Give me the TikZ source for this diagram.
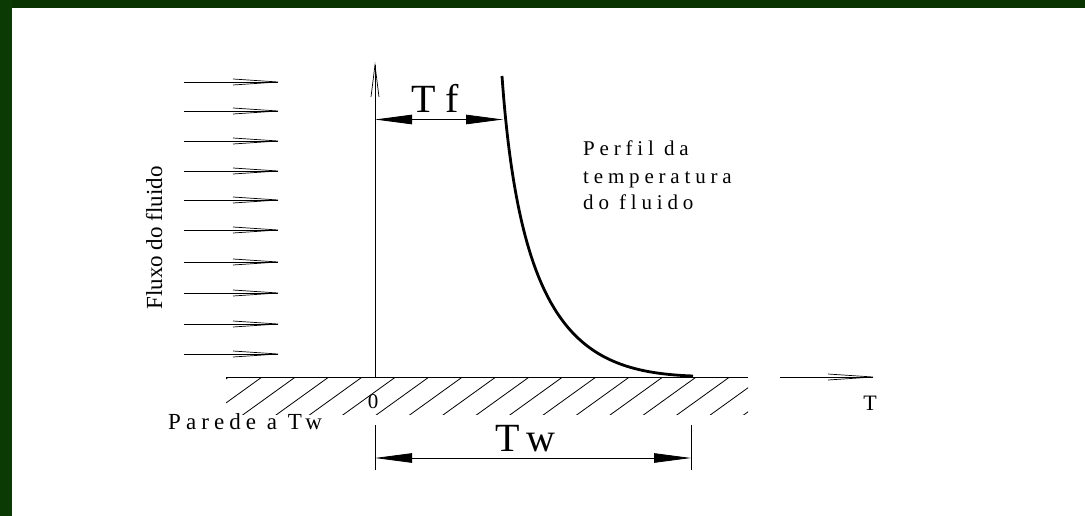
\documentclass[tikz,border=0pt]{standalone}
\usepackage{fontspec}
\setmainfont{Liberation Serif}
\usetikzlibrary{arrows.meta}
\definecolor{frametop}{RGB}{10,51,2}
\definecolor{frameleft}{RGB}{12,58,5}
\begin{document}
\begin{tikzpicture}[x=1pt,y=-1pt,
  thinline/.style={line width=0.8pt},
  openhead/.style={line width=0.7pt, line join=miter},
  dimline/.style={line width=0.8pt,{Triangle[length=37pt,width=9.5pt]}-{Triangle[length=37pt,width=9.5pt]}},
  bigtxt/.style={inner sep=0pt, font=\fontsize{40}{40}\selectfont},
  smalltxt/.style={inner sep=0pt, font=\fontsize{22}{22}\selectfont},
  spaced/.style={inner sep=0pt, font=\fontsize{21}{21}\selectfont\addfontfeature{LetterSpace=23}}]
\useasboundingbox (0,0) rectangle (1085,516);
\fill[white] (0,0) rectangle (1085,516);
% frame bars
\fill[frametop] (0,0) rectangle (1085,8);
\fill[frameleft] (0,0) rectangle (12,516);
% flow arrows
\foreach \yy in {82,111,141,171,200,230,262,293,324,354}{
  \draw[thinline] (184,\yy) -- (278,\yy);
  \draw[openhead] (233,\yy-3) -- (278,\yy) -- (233,\yy+3);
}
\node[smalltxt, font=\fontsize{23}{23}\selectfont, rotate=90, anchor=base] (fluxo) at (162,238) {Fluxo do fluido};
% axes
\coordinate (o) at (375,377);
\coordinate (ytip) at (375,65);
\draw[thinline] (o) -- (ytip);
\draw[openhead] (371,97) -- (ytip) -- (379,97);
\coordinate (xs) at (780,377);
\coordinate (xtip) at (873,377);
\draw[thinline] (xs) -- (xtip);
\draw[openhead] (828,374) -- (xtip) -- (828,380);
\node[smalltxt, anchor=base] (tlab) at (870,410) {T};
% wall and hatching
\coordinate (wl) at (226,377);
\coordinate (wr) at (748,377);
\draw[thinline] (wl) -- (wr);
\begin{scope}
  \clip (226,377) rectangle (748,414);
  \foreach \k in {-1,...,16}{
    \draw[thinline] ({262+33.4*\k},377) -- ({262+33.4*\k-60},{377+0.72*60});
  }
\end{scope}
\node[smalltxt, font=\fontsize{21}{21}\selectfont, anchor=base] (zero) at (373,408) {0};
\node[spaced, font=\fontsize{23}{23}\selectfont\addfontfeature{LetterSpace=22}, anchor=base west] (parede) at (168,429) {Parede a Tw};
% temperature profile
\coordinate (ctop) at (502,76);
\coordinate (cend) at (693,376);
\draw[line width=2.8pt] (ctop) .. controls (520,330) and (580,372) .. (cend);
% Tf dimension
\coordinate (tfl) at (375,119.5);
\coordinate (tfr) at (503,119.5);
\draw[dimline] (tfl) -- (tfr);
\node[bigtxt, anchor=base] (tf) at (435,113) {T\kern10pt f};
% Tw dimension
\coordinate (twl) at (375,458);
\coordinate (twr) at (691,458);
\coordinate (twlt) at (375,425);
\coordinate (twrt) at (691,425);
\coordinate (twlb) at (375,470);
\coordinate (twrb) at (691,470);
\draw[thinline] (twlt) -- (twlb);
\draw[thinline] (twrt) -- (twrb);
\draw[dimline] (twl) -- (twr);
\node[bigtxt, anchor=base] (tw) at (525.5,451) {T\kern7pt w};
% profile label
\node[spaced, anchor=base west] (p1) at (583,156) {Perfil da};
\node[spaced, anchor=base west] (p2) at (583,183) {temperatura};
\node[spaced, anchor=base west] (p3) at (583,210) {do fluido};
\end{tikzpicture}
\end{document}
